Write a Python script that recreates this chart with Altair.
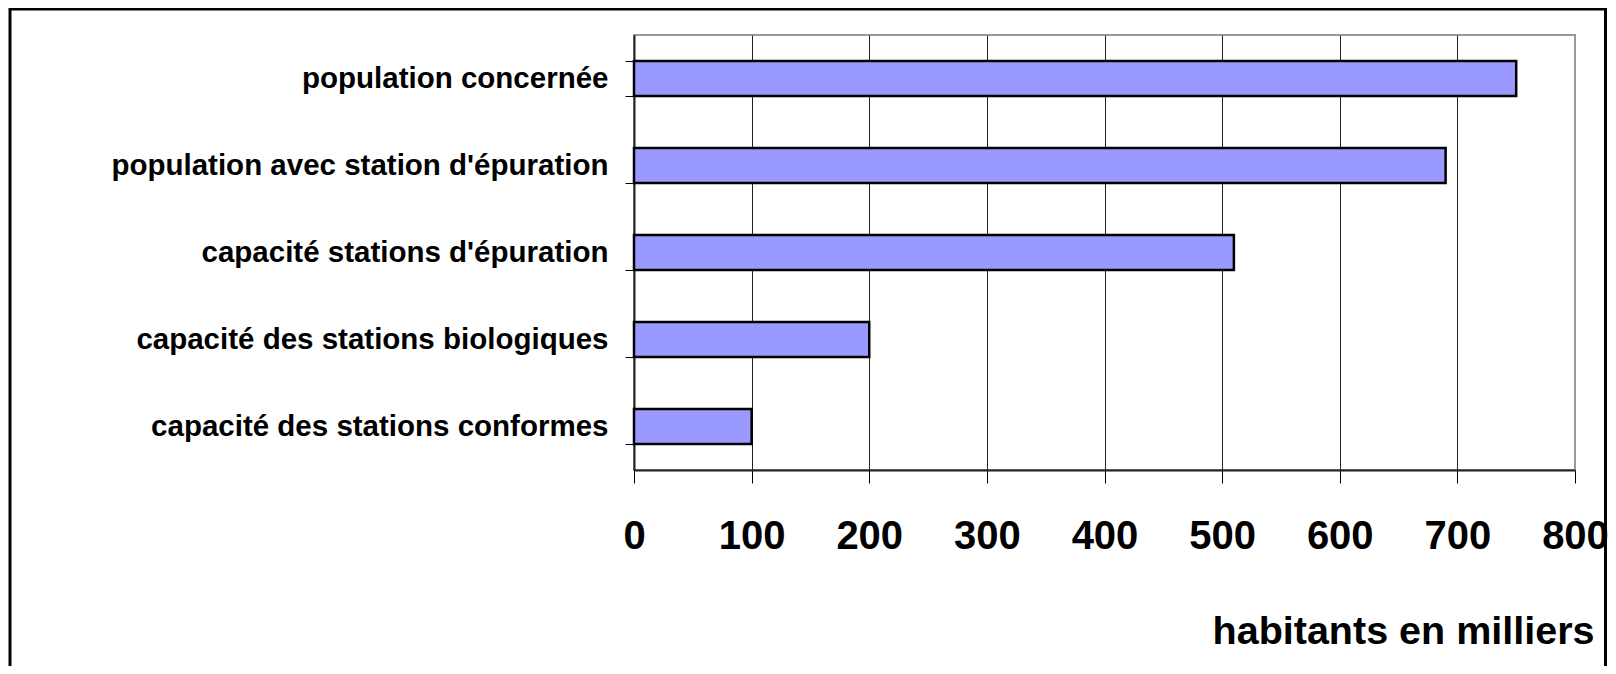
import altair as alt
import pandas as pd

categories = [
    "population concernée",
    "population avec station d'épuration",
    "capacité stations d'épuration",
    "capacité des stations biologiques",
    "capacité des stations conformes",
]
values = [750, 690, 510, 200, 100]
x_ticks = [0, 100, 200, 300, 400, 500, 600, 700, 800]

df = pd.DataFrame({"cat": categories, "val": values})
FONT = "Liberation Sans"

bars = alt.Chart(df).mark_bar(
    fill="#9999FF", stroke="#000000", strokeWidth=2.5
).encode(
    x=alt.X(
        "val:Q",
        scale=alt.Scale(domain=[0, 800], nice=False),
        axis=alt.Axis(
            values=x_ticks,
            format="d",
            labelFontSize=40,
            labelFontWeight="bold",
            labelColor="black",
            labelFont=FONT,
            labelPadding=33,
            labelFlush=False,
            labelOverlap=False,
            tickSize=13,
            tickColor="black",
            tickWidth=1,
            domainColor="#222222",
            domainWidth=2,
            gridColor={"condition": {"test": "datum.value === 800", "value": "#999999"}, "value": "#222222"},
            gridWidth=1,
            title="habitants en milliers",
            titleFont=FONT,
            titleFontSize=39.5,
            titleFontWeight="bold",
            titleColor="black",
            titleAlign="right",
            titleBaseline="alphabetic",
            titleX=960,
            titleY=173,
        ),
    ),
    y=alt.Y(
        "cat:N",
        sort=categories,
        scale=alt.Scale(paddingInner=0.6, paddingOuter=0.3),
        axis=alt.Axis(
            title=None,
            labelFont=FONT,
            labelFontSize=29.5,
            labelFontWeight="bold",
            labelColor="black",
            labelPadding=17,
            labelLimit=700,
            tickBand="extent",
            tickSize=9,
            tickColor="black",
            tickWidth=1,
            domainColor="#222222",
            domainWidth=2,
            grid=False,
        ),
    ),
)

frame = alt.Chart(pd.DataFrame({"a": [0]})).mark_rect(
    fill="transparent", stroke="#000000", strokeWidth=3
).encode(
    x=alt.value(-624), x2=alt.value(971.5), y=alt.value(-26), y2=alt.value(700)
)

chart = alt.layer(frame, bars).properties(
    width=941,
    height=435,
    autosize=alt.AutoSizeParams(type="none"),
    padding={"left": 626, "top": 27, "right": 33, "bottom": 196},
    background="white",
).configure_view(stroke="#999999", strokeWidth=2, fill="white")

chart.save("out.html", embed_options={"renderer": "svg", "actions": False})
